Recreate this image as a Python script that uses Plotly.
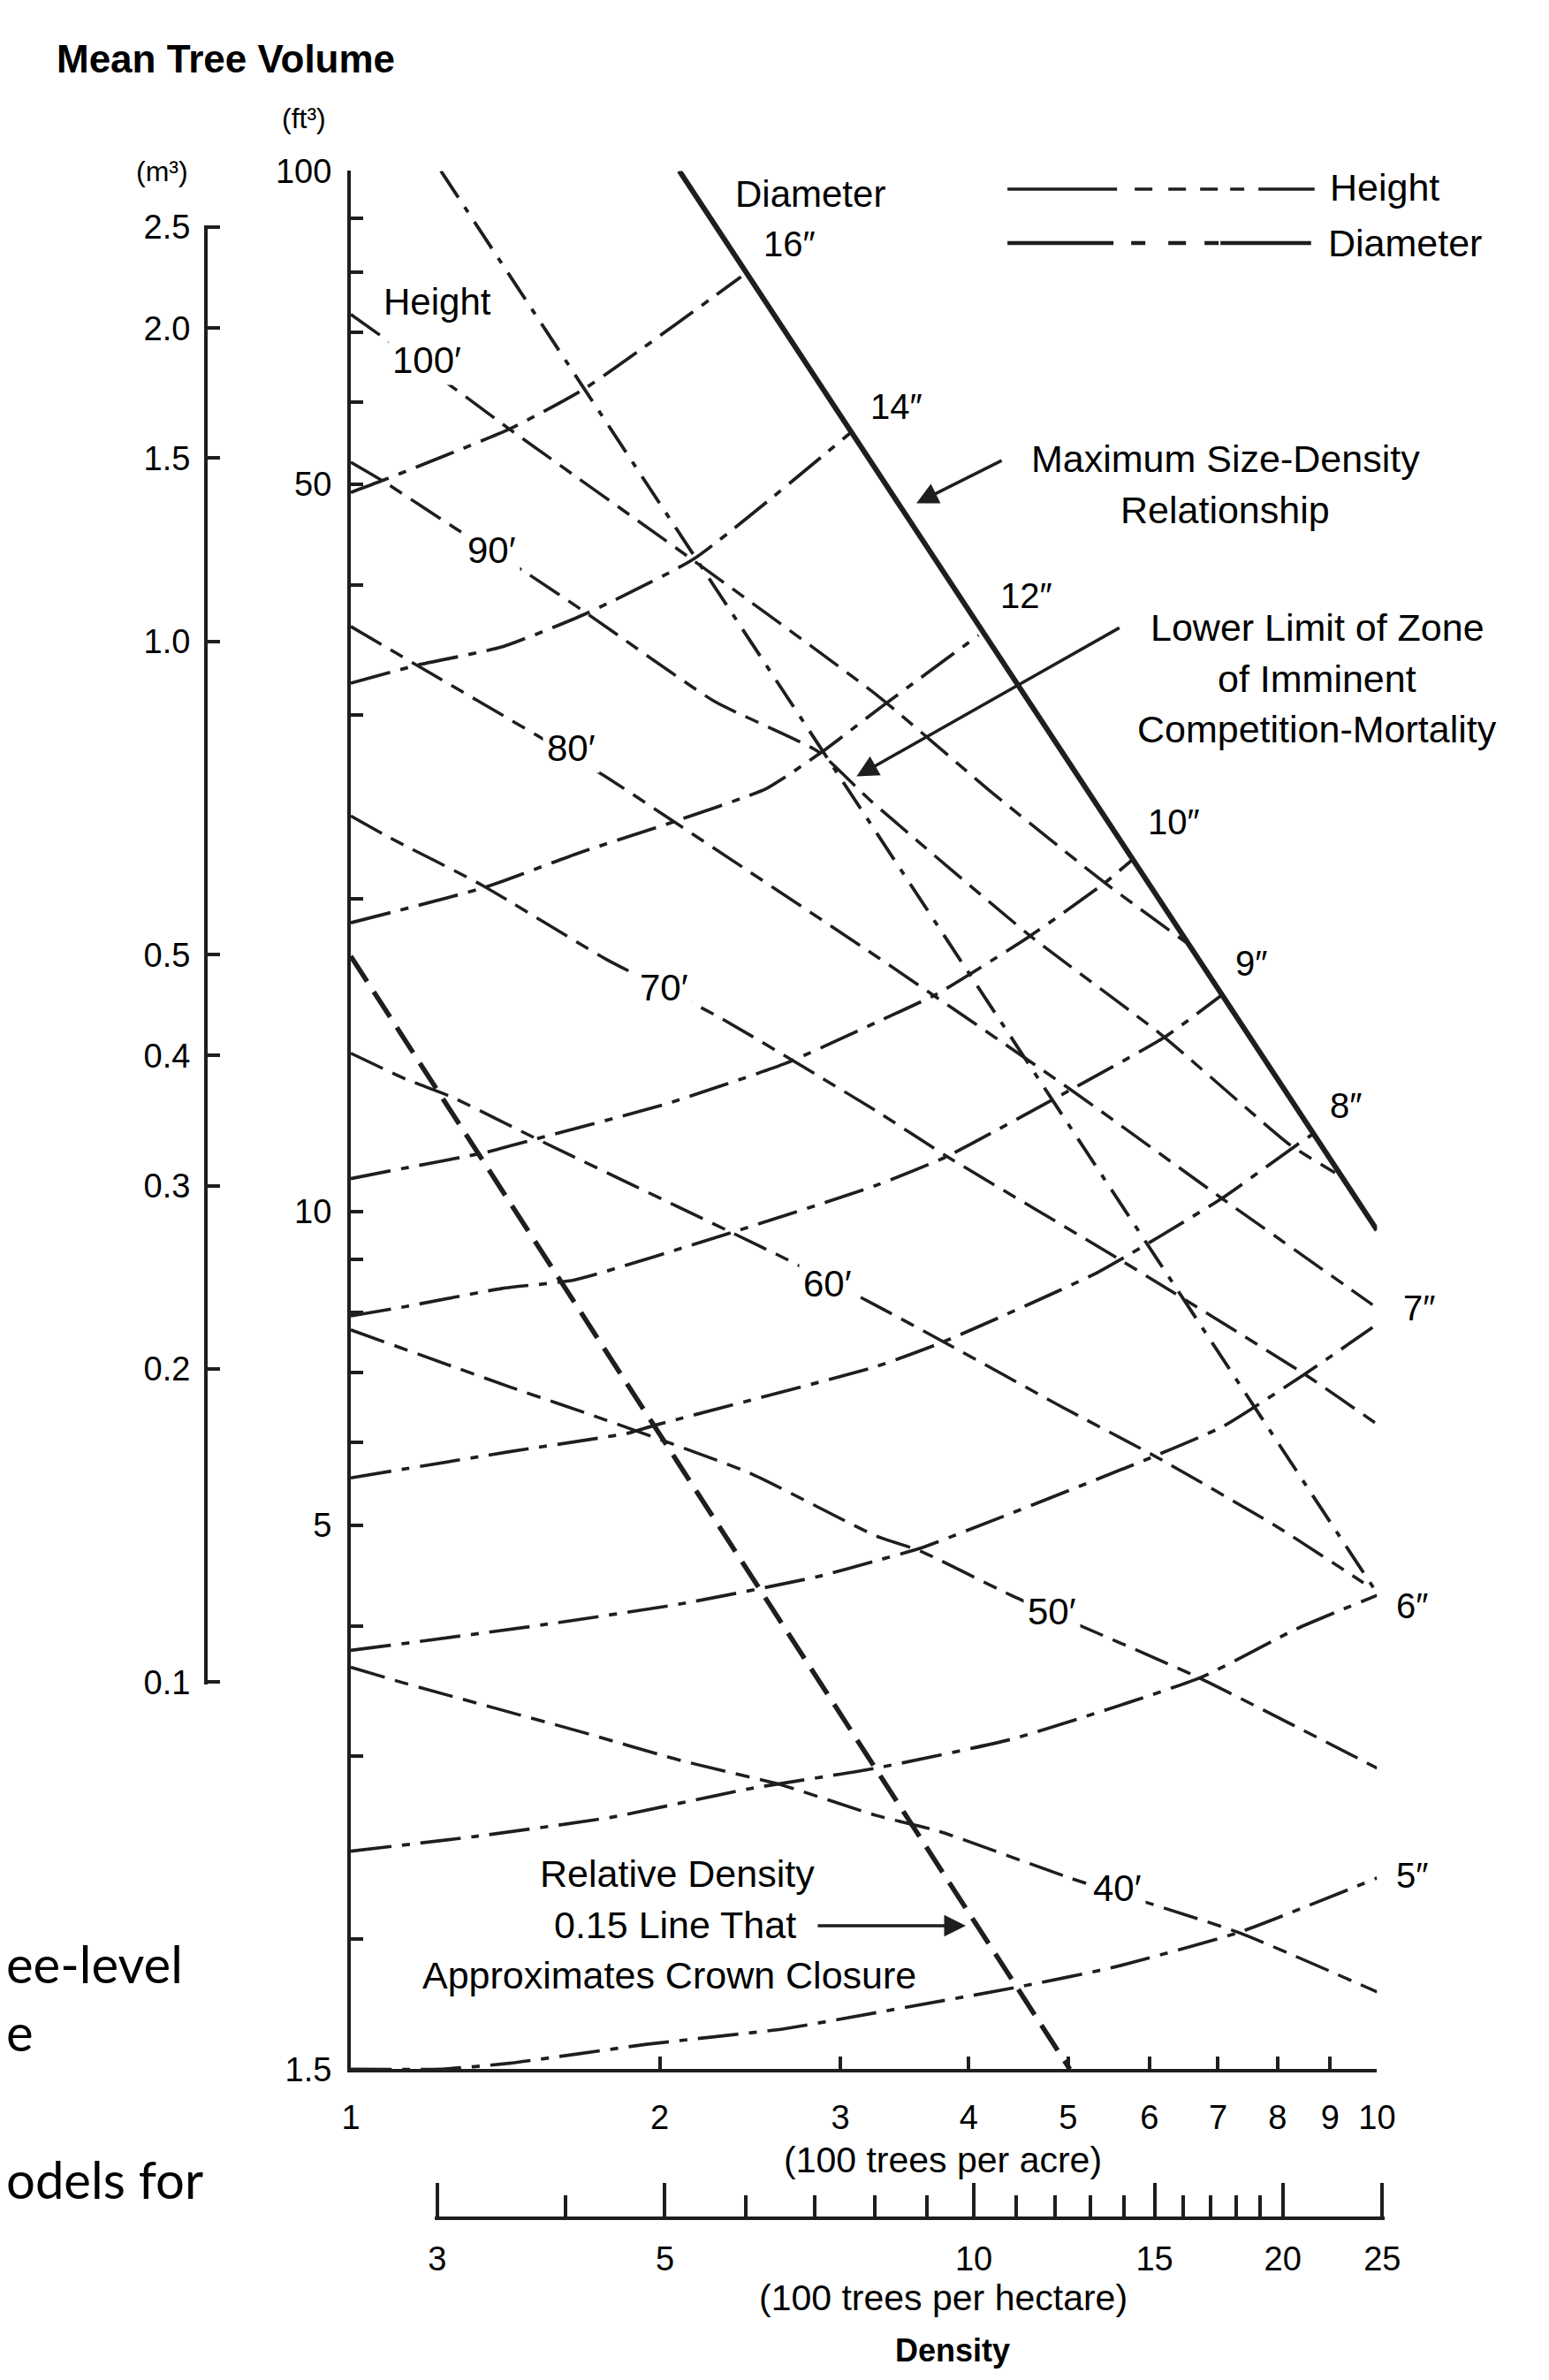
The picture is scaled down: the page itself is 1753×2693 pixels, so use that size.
import math
import plotly.graph_objects as go

# ---------------- data (density in 100 trees/acre, volume in ft^3) ----------------
ACRE_TICKS = [1, 2, 3, 4, 5, 6, 7, 8, 9, 10]
HECTARE_MAJOR = [3, 5, 10, 15, 20, 25]
HECTARE_MINOR = [4, 6, 7, 8, 9, 11, 12, 13, 14, 16, 17, 18, 19]
FT3_TICKS = [1.5, 2, 3, 4, 5, 6, 7, 8, 9, 10, 20, 30, 40, 50, 60, 70, 80, 90, 100]
FT3_LABELS = ["1.5", "", "", "", "5", "", "", "", "", "10", "", "", "", "50", "", "", "", "", "100"]
M3_TICKS = [0.1, 0.2, 0.3, 0.4, 0.5, 1.0, 1.5, 2.0, 2.5]
M3_LABELS = ["0.1", "0.2", "0.3", "0.4", "0.5", "1.0", "1.5", "2.0", "2.5"]
FT3_PER_M3 = 35.3147
ACRES_PER_HECTARE = 2.471

MAX_SDR_X = [2.09, 10.0]
MAX_SDR_Y = [100.0, 9.6]
LOWER_LIMIT_X = [1.224, 10.0]
LOWER_LIMIT_Y = [100.0, 4.3]
RD015_X = [1.0, 5.02]
RD015_Y = [17.6, 1.5]

H100_X = [1.0, 1.262, 1.427, 2.16, 3.25, 4.21, 5.43, 6.64]
H100_Y = [72.8, 61.8, 56.5, 42.2, 31.4, 25.3, 20.7, 17.9]
H90_X = [1.0, 1.073, 1.271, 1.494, 1.69, 2.265, 2.85, 3.2, 4.58, 6.16, 8.22, 9.1]
H90_Y = [52.5, 50.4, 45.2, 40.9, 37.7, 30.9, 27.7, 24.9, 18.45, 14.8, 11.6, 10.9]
H80_X = [1.0, 1.16, 1.517, 1.77, 2.065, 3.25, 5.03, 7.06, 9.9]
H80_Y = [36.5, 33.5, 28.7, 26.2, 23.7, 17.6, 13.1, 10.3, 8.14]
H70_X = [1.0, 1.089, 1.342, 1.77, 2.28, 3.25, 3.81, 5.61, 8.5, 10.0]
H70_Y = [24.0, 22.9, 20.6, 17.5, 15.4, 12.5, 11.3, 9.0, 6.98, 6.25]
H60_X = [1.0, 1.133, 1.252, 1.517, 2.35, 2.66, 3.24, 3.78, 4.95, 6.12, 8.02, 9.7]
H60_Y = [14.2, 13.4, 12.9, 11.75, 9.55, 9.0, 8.14, 7.5, 6.48, 5.8, 4.97, 4.4]
H50_X = [1.0, 1.427, 1.77, 2.446, 3.25, 3.59, 4.4, 6.69, 10.0]
H50_Y = [7.7, 6.79, 6.31, 5.61, 4.88, 4.72, 4.28, 3.57, 2.92]
H40_X = [1.0, 1.133, 1.665, 2.097, 2.64, 3.25, 3.74, 5.02, 7.33, 10.0]
H40_Y = [3.65, 3.52, 3.17, 2.97, 2.81, 2.63, 2.54, 2.29, 2.03, 1.78]

D16_X = [1.0, 1.073, 1.428, 1.691, 2.40]
D16_Y = [49.1, 50.4, 56.5, 61.8, 79.1]
D14_X = [1.0, 1.16, 1.406, 1.69, 2.16, 3.08]
D14_Y = [32.2, 33.5, 34.9, 37.5, 42.4, 56.2]
D12_X = [1.0, 1.352, 1.665, 2.065, 2.54, 2.87, 3.31, 4.09]
D12_Y = [18.95, 20.5, 22.1, 23.7, 25.5, 27.6, 30.7, 35.8]
D10_X = [1.0, 1.089, 1.352, 1.517, 2.033, 2.66, 3.25, 3.73, 4.59, 5.43, 5.78]
D10_Y = [10.76, 10.94, 11.4, 11.75, 12.7, 13.9, 15.2, 16.2, 18.4, 20.7, 21.8]
D9_X = [1.0, 1.133, 1.405, 1.652, 2.35, 3.25, 3.81, 5.03, 6.2, 7.09]
D9_Y = [7.94, 8.11, 8.44, 8.6, 9.55, 10.6, 11.3, 13.1, 14.7, 16.2]
D8_X = [1.0, 1.427, 1.868, 1.973, 3.25, 3.78, 5.35, 7.06, 8.36, 8.69]
D8_Y = [5.55, 5.88, 6.13, 6.23, 7.1, 7.5, 8.75, 10.3, 11.6, 11.9]
D7_X = [1.0, 1.089, 1.54, 2.097, 2.85, 3.25, 3.59, 6.01, 7.08, 8.5, 9.9]
D7_Y = [3.79, 3.83, 4.01, 4.2, 4.46, 4.62, 4.75, 5.8, 6.22, 6.98, 7.74]
D6_X = [1.0, 1.32, 1.797, 2.446, 3.25, 4.44, 6.74, 8.33, 10.0]
D6_Y = [2.43, 2.51, 2.62, 2.79, 2.92, 3.12, 3.57, 3.97, 4.28]
D5_X = [1.0, 1.223, 1.427, 1.942, 2.64, 3.25, 4.48, 5.54, 7.33, 10.0]
D5_Y = [1.5, 1.5, 1.52, 1.585, 1.64, 1.70, 1.80, 1.88, 2.03, 2.29]

HEIGHT_LABELS = ["100′", "90′", "80′", "70′", "60′", "50′", "40′"]
DIAMETER_LABELS = ["16″", "14″", "12″", "10″", "9″", "8″", "7″", "6″", "5″"]

# ---------------- geometry / style ----------------
W, H = 1753, 2693
INK = "#1e1e1e"
FONT = "Liberation Sans, Arial, sans-serif"
X_LEFT, X_RIGHT = 385, 1568      # pixel positions of x = 1 and x = 10
Y_TOP, Y_BOT = 167, 2349         # pixel positions of 100 ft3 and 1.5 ft3
EPS = 0.002                      # small range padding so end ticks are drawn


def px(X):
    return X / W


def py(Y):
    return 1 - Y / H


XD = [px(X_LEFT), px(X_RIGHT)]
YD = [py(Y_BOT), py(Y_TOP)]
YR = [math.log10(1.5), 2.0]


def ypaper_log(lv):
    return YD[0] + (lv - YR[0]) / (YR[1] - YR[0]) * (YD[1] - YD[0])


def xpaper_log(lv):
    return XD[0] + lv * (XD[1] - XD[0])


Y3_RANGE = [math.log10(M3_TICKS[0]) - EPS, math.log10(M3_TICKS[-1]) + EPS]
Y3_DOMAIN = [ypaper_log(r + math.log10(FT3_PER_M3)) for r in Y3_RANGE]
X2_RANGE = [math.log10(HECTARE_MAJOR[0]) - EPS, math.log10(HECTARE_MAJOR[-1]) + EPS]
X2_DOMAIN = [xpaper_log(r - math.log10(ACRES_PER_HECTARE)) for r in X2_RANGE]

HEIGHT_DASH = "40px,12px,16px,12px"
DIAM_DASH = "46px,12px,9px,12px"
LOWER_DASH = "36px,13px,7px,13px"
RD_DASH = "34px,14px"

fig = go.Figure()


def add_line(xs, ys, dash, width):
    fig.add_trace(go.Scatter(
        x=xs, y=ys, mode="lines",
        line=dict(color=INK, width=width, dash=dash, shape="spline", smoothing=0.5),
        hoverinfo="skip", showlegend=False))


for xs, ys in [(H100_X, H100_Y), (H90_X, H90_Y), (H80_X, H80_Y), (H70_X, H70_Y),
               (H60_X, H60_Y), (H50_X, H50_Y), (H40_X, H40_Y)]:
    add_line(xs, ys, HEIGHT_DASH, 3.5)

for xs, ys in [(D16_X, D16_Y), (D14_X, D14_Y), (D12_X, D12_Y), (D10_X, D10_Y), (D9_X, D9_Y),
               (D8_X, D8_Y), (D7_X, D7_Y), (D6_X, D6_Y), (D5_X, D5_Y)]:
    add_line(xs, ys, DIAM_DASH, 3.7)

add_line(LOWER_LIMIT_X, LOWER_LIMIT_Y, LOWER_DASH, 3.8)
add_line(RD015_X, RD015_Y, RD_DASH, 5.5)
add_line(MAX_SDR_X, MAX_SDR_Y, "solid", 6)

# anchor traces for the secondary axes (invisible)
fig.add_trace(go.Scatter(x=[1], y=[1], xaxis="x", yaxis="y3", mode="markers",
                         marker=dict(opacity=0), hoverinfo="skip", showlegend=False))
fig.add_trace(go.Scatter(x=[5], y=[10], xaxis="x2", yaxis="y", mode="markers",
                         marker=dict(opacity=0), hoverinfo="skip", showlegend=False))

axis_common = dict(showline=True, linecolor=INK, linewidth=4, showgrid=False, zeroline=False,
                   ticks="inside", tickcolor=INK, tickwidth=3.5, type="log",
                   tickfont=dict(family=FONT, size=38, color="black"))

fig.update_layout(
    width=W, height=H, margin=dict(l=0, r=0, t=0, b=0),
    paper_bgcolor="white", plot_bgcolor="rgba(0,0,0,0)",
    showlegend=False,
    xaxis=dict(axis_common, domain=XD, range=[0, 1], anchor="y",
               tickmode="array", tickvals=ACRE_TICKS, ticktext=[str(t) for t in ACRE_TICKS],
               ticklen=14, ticklabelstandoff=18),
    yaxis=dict(axis_common, domain=YD, range=YR, anchor="x",
               tickmode="array", tickvals=FT3_TICKS, ticktext=FT3_LABELS,
               ticklen=14, ticklabelstandoff=10),
    yaxis3=dict(axis_common, domain=Y3_DOMAIN, anchor="free", position=px(218),
                range=Y3_RANGE,
                tickmode="array", tickvals=M3_TICKS, ticktext=M3_LABELS,
                ticklen=14, ticklabelstandoff=8),
    xaxis2=dict(axis_common, domain=X2_DOMAIN, anchor="free", position=py(2520),
                range=X2_RANGE,
                tickmode="array", tickvals=HECTARE_MAJOR, ticktext=[str(t) for t in HECTARE_MAJOR],
                ticklen=38, ticklabelstandoff=12,
                minor=dict(tickmode="array", tickvals=HECTARE_MINOR, ticks="inside",
                           ticklen=24, tickwidth=3.5, tickcolor=INK)),
)

ann = []


def text(t, X, Y, size=43, bold=False, anchor="center", bg=None, fam=FONT):
    a = dict(text=("<b>%s</b>" % t) if bold else t, x=px(X), y=py(Y), xref="paper", yref="paper",
             showarrow=False, xanchor=anchor, yanchor="middle",
             font=dict(family=fam, size=size, color="black"))
    if bg:
        a.update(bgcolor=bg, borderpad=4)
    ann.append(a)


def arrow(hx, hy, tx, ty):
    ann.append(dict(text="", x=px(hx), y=py(hy), xref="paper", yref="paper", showarrow=True,
                    ax=tx - hx, ay=ty - hy, axref="pixel", ayref="pixel",
                    arrowhead=2, arrowsize=1.4, arrowwidth=3.5, arrowcolor=INK))


text("Mean Tree Volume", 241, 38, size=44, bold=True)
text("(ft³)", 331, 107, size=32)
text("(m³)", 168, 168, size=32)

text("Height", 485, 317, size=42)
height_pos = [(473, 384), (548, 603), (639, 830), (746, 1106), (935, 1446), (1193, 1823), (1269, 2141)]
for lab, (X, Y) in zip(HEIGHT_LABELS, height_pos):
    text(lab, X, Y, size=42, bg="white")

text("Diameter", 915, 194, size=42)
diam_pos = [(891, 251), (1014, 438), (1164, 655), (1334, 915), (1423, 1078), (1532, 1241),
            (1616, 1474), (1608, 1816), (1608, 2126)]
for lab, (X, Y) in zip(DIAMETER_LABELS, diam_pos):
    text(lab, X, Y, size=40)

text("Maximum Size-Density", 1393, 498)
text("Relationship", 1393, 557)
arrow(1037, 549, 1135, 500)

text("Lower Limit of Zone", 1499, 692)
text("of Imminent", 1499, 751)
text("Competition-Mortality", 1499, 809)
arrow(968, 863, 1267, 694)

text("Relative Density", 761, 2124)
text("0.15 Line That", 759, 2183)
text("Approximates Crown Closure", 752, 2241)
arrow(1094, 2184, 925, 2184)

text("(100 trees per acre)", 1067, 2453, size=41)
text("(100 trees per hectare)", 1068, 2612, size=41)
text("Density", 1079, 2672, size=36, bold=True)

# custom legend text
text("Height", 1512, 186, anchor="left")
text("Diameter", 1510, 250, anchor="left")

# fragments of slide text at the left edge
text("ee-level", -14, 2227, size=58, anchor="left", fam="Lato, Liberation Sans, sans-serif")
text("e", -14, 2305, size=58, anchor="left", fam="Lato, Liberation Sans, sans-serif")
text("odels for", -14, 2475, size=58, anchor="left", fam="Lato, Liberation Sans, sans-serif")

fig.update_layout(annotations=ann)

# custom legend line samples
fig.add_shape(type="line", xref="paper", yref="paper", x0=px(1142), x1=px(1496), y0=py(188), y1=py(188),
              line=dict(color=INK, width=3.5,
                        dash="124px,20px,20px,18px,20px,16px,20px,14px,16px,16px,72px"))
fig.add_shape(type="line", xref="paper", yref="paper", x0=px(1142), x1=px(1492), y0=py(250), y1=py(250),
              line=dict(color=INK, width=4.5,
                        dash="120px,20px,16px,26px,20px,21px,16px,2px,112px"))

fig.write_html("out.html")
